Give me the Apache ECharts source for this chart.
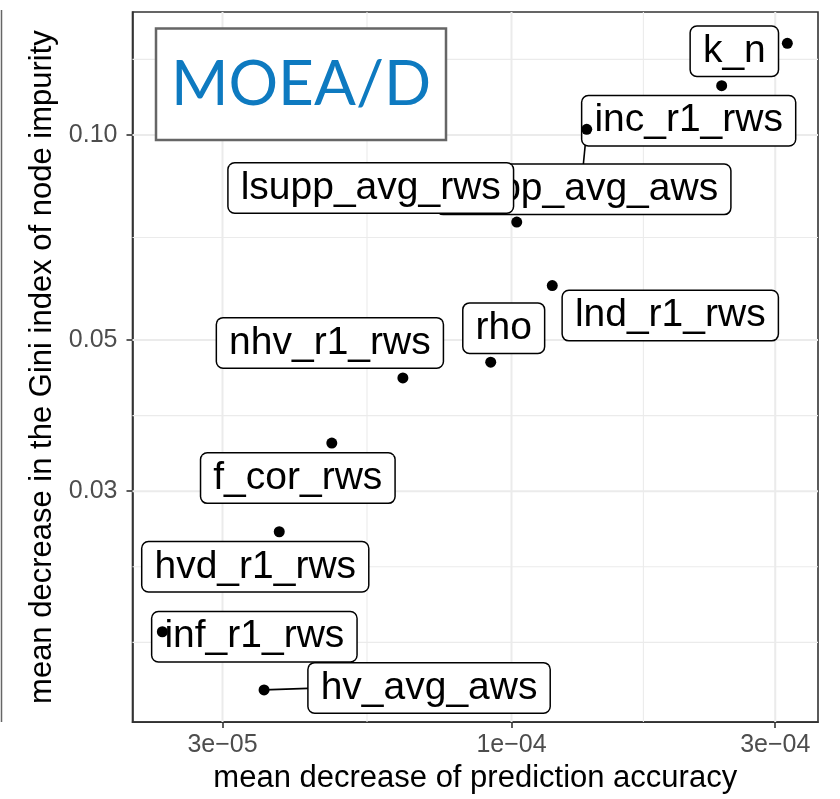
<!DOCTYPE html>
<html>
<head>
<meta charset="utf-8">
<script src="https://cdn.jsdelivr.net/npm/echarts@6/dist/echarts.min.js"></script>
<style>
html, body { margin: 0; padding: 0; background: #fff; }
#main { width: 840px; height: 799px; }
</style>
</head>
<body>
<div id="main"></div>
<script>
// feature importance (both axes log10)
var features = ['k_n', 'inc_r1_rws', 'lsupp_avg_aws', 'lsupp_avg_rws', 'lnd_r1_rws', 'rho',
    'nhv_r1_rws', 'f_cor_rws', 'hvd_r1_rws', 'inf_r1_rws', 'hv_avg_aws'];
var accuracy = [3.155e-4, 2.40e-4, 1.368e-4, 1.022e-4, 1.185e-4, 9.17e-5,
    6.36e-5, 4.73e-5, 3.80e-5, 2.335e-5, 3.567e-5];
var gini = [0.1363, 0.1181, 0.1019, 0.0745, 0.0601, 0.0464,
    0.0440, 0.0353, 0.02616, 0.01866, 0.01533];

var xTicks = [3e-5, 1e-4, 3e-4];
var xTickLabels = ['3e\u221205', '1e\u221204', '3e\u221204'];
var yTicks = [0.03, 0.05, 0.10];
var yTickLabels = ['0.03', '0.05', '0.10'];

// where each repelled label box sits relative to its point (px)
var labelOffsets = [[-53, 8], [-33, 35], [-3, 60], [-146, -34], [118, 30], [13, -34],
    [-73, -35], [-34, 35], [-24, 35], [92, 5], [165, -2]];
// leader segments: end of the segment relative to the point (px)
var segmentEnds = { lsupp_avg_aws: [-3.5, 36], hv_avg_aws: [44, -1.5] };

var xMin = 2.062e-5, xMax = 3.585e-4;
var yMin = 0.01375, yMax = 0.1515;

// ggplot style minor breaks: geometric midpoints, plus one extra step outside
function minorBreaks(b, lo, hi) {
    var r = b[1] / b[0], ext = b.slice();
    if (lo < b[0]) ext.unshift(b[0] / r);
    if (hi > b[b.length - 1]) ext.push(b[b.length - 1] * r);
    var out = [];
    for (var i = 0; i < ext.length - 1; i++) {
        if (b.indexOf(ext[i]) < 0) out.push(ext[i]);
        out.push(Math.sqrt(ext[i] * ext[i + 1]));
    }
    if (b.indexOf(ext[ext.length - 1]) < 0) out.push(ext[ext.length - 1]);
    return out.filter(function (v) { return v >= lo && v <= hi; });
}

function tickLabel(ticks, labels) {
    return function (v) {
        var best = 0;
        for (var i = 1; i < ticks.length; i++) {
            if (Math.abs(Math.log(v / ticks[i])) < Math.abs(Math.log(v / ticks[best]))) best = i;
        }
        return labels[best];
    };
}

var font = 'Liberation Sans, Helvetica, Arial, sans-serif';

// grid lines: [value, isMajor]
var vLines = [], hLines = [];
xTicks.forEach(function (v) { vLines.push([v, 1]); });
minorBreaks(xTicks, xMin, xMax).forEach(function (v) { vLines.push([v, 0]); });
yTicks.forEach(function (v) { hLines.push([v, 1]); });
minorBreaks(yTicks, yMin, yMax).forEach(function (v) { hLines.push([v, 0]); });

function gridLine(vertical) {
    return function (params, api) {
        var v = api.value(0), major = api.value(1);
        var p1 = vertical ? api.coord([v, yMin]) : api.coord([xMin, v]);
        var p2 = vertical ? api.coord([v, yMax]) : api.coord([xMax, v]);
        return {
            type: 'line',
            shape: { x1: p1[0], y1: p1[1], x2: p2[0], y2: p2[1] },
            style: { stroke: '#ebebeb', lineWidth: major ? 2 : 1.1 }
        };
    };
}

var points = features.map(function (f, i) { return [accuracy[i], gini[i]]; });
var segData = [];
features.forEach(function (f, i) {
    if (segmentEnds[f]) segData.push([accuracy[i], gini[i], segmentEnds[f][0], segmentEnds[f][1]]);
});

var option = {
    animation: false,
    grid: {
        left: 132.5, right: 22, top: 12, bottom: 76.3,
        show: true, borderColor: '#333', borderWidth: 1.6, backgroundColor: '#fff'
    },
    xAxis: {
        type: 'log', logBase: 10, min: xMin, max: xMax,
        name: 'mean decrease of prediction accuracy',
        nameLocation: 'middle', nameGap: 40,
        nameTextStyle: { fontSize: 31, color: '#000', fontFamily: font },
        axisLine: { show: true, lineStyle: { color: '#333', width: 1.6 } },
        axisTick: { show: true, customValues: xTicks, length: 6, lineStyle: { color: '#333', width: 1.6 } },
        axisLabel: {
            customValues: xTicks, margin: 11, fontSize: 25, color: '#4d4d4d', fontFamily: font,
            formatter: tickLabel(xTicks, xTickLabels)
        },
        splitLine: { show: false },
        minorSplitLine: { show: false }
    },
    yAxis: {
        type: 'log', logBase: 10, min: yMin, max: yMax,
        name: 'mean decrease in the Gini index of node impurity',
        nameLocation: 'middle', nameGap: 72,
        nameTextStyle: { fontSize: 31, color: '#000', fontFamily: font },
        axisLine: { show: true, lineStyle: { color: '#333', width: 1.6 } },
        axisTick: { show: true, customValues: yTicks, length: 6, lineStyle: { color: '#333', width: 1.6 } },
        axisLabel: {
            customValues: yTicks, margin: 15, fontSize: 25, color: '#4d4d4d', fontFamily: font,
            formatter: tickLabel(yTicks, yTickLabels)
        },
        splitLine: { show: false },
        minorSplitLine: { show: false }
    },
    graphic: [
        {
            type: 'line', z: 10, silent: true,
            shape: { x1: 1.5, y1: 10, x2: 1.5, y2: 722 },
            style: { stroke: '#666', lineWidth: 1.5 }
        },
        {
            type: 'rect', z: 3, silent: true,
            shape: { x: 156, y: 28.5, width: 290, height: 111.5 },
            style: { fill: '#fff', stroke: '#666', lineWidth: 2.5 }
        },
        {
            type: 'text', z: 4, silent: true,
            x: 301, y: 85,
            style: {
                text: 'MOEA/D', fill: '#0e7ac0', fontSize: 62,
                fontFamily: 'Lato, Inter, sans-serif', align: 'center', verticalAlign: 'middle'
            }
        }
    ],
    series: [
        {
            name: 'vgrid', type: 'custom', z: 1, silent: true, clip: true,
            data: vLines, renderItem: gridLine(true)
        },
        {
            name: 'hgrid', type: 'custom', z: 1, silent: true, clip: true,
            data: hLines, renderItem: gridLine(false)
        },
        {
            name: 'segments', type: 'custom', z: 4, silent: true,
            data: segData,
            renderItem: function (params, api) {
                var p = api.coord([api.value(0), api.value(1)]);
                return {
                    type: 'line',
                    shape: { x1: p[0], y1: p[1], x2: p[0] + api.value(2), y2: p[1] + api.value(3) },
                    style: { stroke: '#000', lineWidth: 1.6 }
                };
            }
        },
        {
            // repelled labels, later items drawn on top
            name: 'labels', type: 'custom', z: 5, silent: true,
            data: points,
            renderItem: function (params, api) {
                var i = params.dataIndex;
                var p = api.coord([api.value(0), api.value(1)]);
                return {
                    type: 'text',
                    z2: i,
                    x: p[0] + labelOffsets[i][0],
                    y: p[1] + labelOffsets[i][1],
                    style: {
                        text: features[i],
                        fill: '#000',
                        fontSize: 39,
                        fontFamily: font,
                        align: 'center',
                        verticalAlign: 'middle',
                        lineHeight: 41,
                        backgroundColor: '#fff',
                        borderColor: '#000',
                        borderWidth: 1.5,
                        borderRadius: 6,
                        padding: [5, 12, 3, 12]
                    }
                };
            }
        },
        {
            name: 'points',
            type: 'scatter',
            z: 8,
            symbol: 'circle',
            symbolSize: 11,
            itemStyle: { color: '#000', opacity: 1 },
            data: points
        }
    ]
};

var myChart = echarts.init(document.getElementById('main'));
myChart.setOption(option);
</script>
</body>
</html>
